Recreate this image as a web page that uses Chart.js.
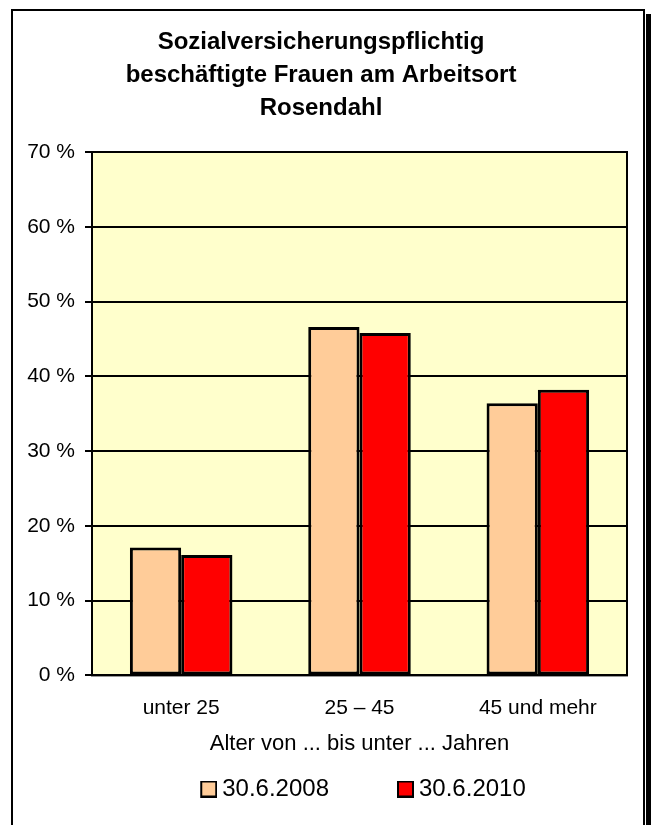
<!DOCTYPE html>
<html>
<head>
<meta charset="utf-8">
<script src="https://cdn.jsdelivr.net/npm/chart.js@4/dist/chart.umd.min.js"></script>
<style>
html,body{margin:0;padding:0;background:#fff;}
#wrap{position:relative;width:651px;height:825px;}
</style>
</head>
<body>
<div id="wrap"><canvas id="c" width="651" height="825"></canvas></div>
<script>
const titleLines = ["Sozialversicherungspflichtig", "beschäftigte Frauen am Arbeitsort", "Rosendahl"];
const categories = ["unter 25", "25 – 45", "45 und mehr"];
const seriesNames = ["30.6.2008", "30.6.2010"];
const values2008 = [17.1, 46.6, 36.4];
const values2010 = [16.1, 45.8, 38.2];
const seriesColors = ["#FFCC99", "#FF0000"];
const xAxisTitle = "Alter von ... bis unter ... Jahren";
const yTickSuffix = " %";

const FONT = "'Liberation Sans', Arial, sans-serif";

// legend swatch images: box sits at the right end of a wider transparent slot
const SLOT = 58, IMG_W = SLOT + 14;
function makeSwatch(color) {
  const cv = document.createElement('canvas');
  cv.width = IMG_W; cv.height = 17;
  const g = cv.getContext('2d');
  g.fillStyle = color;
  g.fillRect(IMG_W - 16, 1, 15, 15);
  g.strokeStyle = '#000';
  g.lineWidth = 2;
  g.strokeRect(IMG_W - 16, 1, 15, 15);
  return cv;
}
const swatches = seriesColors.map(makeSwatch);

const framePlugin = {
  id: 'frame',
  afterLayout(chart) {
    if (chart.legend) { chart.legend.left += 18; chart.legend.right += 18; }
  },
  beforeDraw(chart) {
    const ctx = chart.ctx;
    ctx.save();
    ctx.fillStyle = '#ffffff';
    ctx.fillRect(0, 0, chart.width, chart.height);
    ctx.fillStyle = '#000000';
    ctx.fillRect(646, 14, 5, chart.height - 14);
    ctx.strokeStyle = '#000000';
    ctx.lineWidth = 2;
    ctx.beginPath();
    ctx.moveTo(12, chart.height + 2);
    ctx.lineTo(12, 10);
    ctx.lineTo(644, 10);
    ctx.lineTo(644, chart.height + 2);
    ctx.stroke();
    const a = chart.chartArea;
    ctx.fillStyle = '#FFFFCC';
    ctx.fillRect(a.left, a.top, a.right - a.left, a.bottom - a.top);
    ctx.restore();
  },
  beforeDatasetsDraw(chart) {
    const ctx = chart.ctx;
    const a = chart.chartArea;
    ctx.save();
    ctx.strokeStyle = '#000000';
    ctx.lineWidth = 2;
    ctx.strokeRect(a.left, a.top, a.right - a.left, a.bottom - a.top);
    ctx.restore();
  }
};

new Chart(document.getElementById('c'), {
  type: 'bar',
  data: {
    labels: categories,
    datasets: [
      { label: seriesNames[0], data: values2008, backgroundColor: seriesColors[0], borderColor: '#000000', borderWidth: 3, borderSkipped: false },
      { label: seriesNames[1], data: values2010, backgroundColor: seriesColors[1], borderColor: '#000000', borderWidth: 3, borderSkipped: false }
    ]
  },
  options: {
    responsive: false,
    animation: false,
    devicePixelRatio: 1,
    layout: { padding: { left: 15, right: 24, top: 26, bottom: 14 } },
    datasets: { bar: { categoryPercentage: 0.575, barPercentage: 1.0 } },
    plugins: {
      title: {
        display: true,
        text: titleLines,
        color: '#000',
        font: { family: FONT, size: 24, weight: 'bold', lineHeight: 1.375 },
        padding: { top: 0, bottom: 27 }
      },
      legend: {
        position: 'bottom',
        labels: {
          color: '#000',
          font: { family: FONT, size: 24 },
          usePointStyle: true,
          pointStyleWidth: SLOT,
          boxHeight: 15,
          padding: 20,
          generateLabels(chart) {
            const items = Chart.defaults.plugins.legend.labels.generateLabels(chart);
            items.forEach((it, i) => { it.pointStyle = swatches[i]; });
            return items;
          }
        }
      },
      tooltip: { enabled: false }
    },
    scales: {
      x: {
        grid: { display: false, drawTicks: false },
        border: { display: true, color: '#000', width: 2 },
        ticks: { color: '#000', font: { family: FONT, size: 21 }, padding: 20 },
        title: { display: true, text: xAxisTitle, color: '#000', font: { family: FONT, size: 22 }, padding: { top: -10, bottom: 0 } }
      },
      y: {
        min: 0, max: 70,
        afterFit(scale) { scale.width = 77; },
        grid: { color: '#000', lineWidth: 2, tickLength: 7, tickColor: '#000', tickWidth: 2 },
        border: { display: true, color: '#000', width: 2 },
        ticks: {
          stepSize: 10,
          color: '#000',
          padding: 10,
          font: { family: FONT, size: 21 },
          callback: (v) => v + yTickSuffix
        }
      }
    }
  },
  plugins: [framePlugin]
});
</script>
</body>
</html>
